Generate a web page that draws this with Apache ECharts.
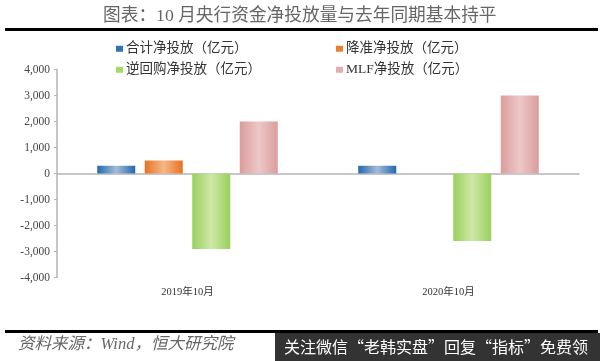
<!DOCTYPE html>
<html>
<head>
<meta charset="utf-8">
<style>html,body{margin:0;padding:0;background:#fff}#main{width:600px;height:361px}</style>
<script src="https://cdn.jsdelivr.net/npm/echarts@6/dist/echarts.min.js"></script>
</head>
<body>
<div id="main"></div>
<script>
var categories = ['2019年10月', '2020年10月'];
var seriesNames = ['合计净投放（亿元）', '降准净投放（亿元）', '逆回购净投放（亿元）', 'MLF净投放（亿元）'];
var totalNet = [300, 300];
var rrrNet = [500, 0];
var repoNet = [-2900, -2600];
var mlfNet = [2000, 3000];

var serifFont = '"Liberation Serif","Noto Sans CJK SC",serif';
var chartObj = echarts.init(document.getElementById('main'));

// 柱子中间浅两边深
function barFill(edge, mid) {
	return new echarts.graphic.LinearGradient(0, 0, 1, 0, [
		{ offset: 0, color: edge },
		{ offset: 0.5, color: mid },
		{ offset: 1, color: edge }
	]);
}

function barSeries(name, values, edge, mid) {
	return {
		type: 'bar',
		name: name,
		data: values,
		barWidth: 38,
		barGap: '25%',
		itemStyle: { color: barFill(edge, mid) }
	};
}

function legendItem(name, color, left, top) {
	return {
		data: [{ name: name, itemStyle: { color: color } }],
		left: left,
		top: top,
		icon: 'rect',
		itemWidth: 7,
		itemHeight: 6,
		itemGap: 0,
		padding: 0,
		selectedMode: false,
		textStyle: { fontFamily: serifFont, fontSize: 13.5, color: '#333', padding: [0, 0, 0, -2] }
	};
}

var option = {
	animation: false,
	backgroundColor: '#fff',
	title: {
		text: '图表：10 月央行资金净投放量与去年同期基本持平',
		left: 103,
		top: 8,
		padding: 0,
		textStyle: { fontFamily: serifFont, fontSize: 17.7, fontWeight: 'normal', color: '#666' }
	},
	legend: [
		legendItem(seriesNames[0], '#2e75b6', 116, 42),
		legendItem(seriesNames[1], '#ed7d31', 336, 42),
		legendItem(seriesNames[2], '#a5d96a', 116, 63),
		legendItem(seriesNames[3], '#e0aeae', 336, 63)
	],
	grid: { left: 57, right: 21, top: 69.5, bottom: 83.5, outerBoundsMode: 'none' },
	xAxis: {
		type: 'category',
		data: categories,
		axisLine: { lineStyle: { color: '#b5b5b5', width: 1.5 } },
		axisTick: { length: 3, lineStyle: { color: '#b5b5b5' } },
		axisLabel: { margin: 10, fontFamily: serifFont, fontSize: 10.5, color: '#333' }
	},
	yAxis: {
		type: 'value',
		min: -4000,
		max: 4000,
		interval: 1000,
		splitLine: { show: false },
		axisLine: { show: true, lineStyle: { color: '#b5b5b5', width: 1.5 } },
		axisTick: { show: true, length: 3, lineStyle: { color: '#b5b5b5' } },
		axisLabel: {
			margin: 7,
			fontFamily: serifFont,
			fontSize: 11.5,
			color: '#444',
			formatter: function (v) { return v.toLocaleString('en-US'); }
		}
	},
	series: [
		barSeries(seriesNames[0], totalNet, '#2268ae', '#a3bdd6'),
		barSeries(seriesNames[1], rrrNet, '#e8721f', '#f5b88a'),
		barSeries(seriesNames[2], repoNet, '#98d05c', '#cfe8a8'),
		barSeries(seriesNames[3], mlfNet, '#dc9c9c', '#ecc8c8')
	],
	graphic: [
		{ type: 'rect', shape: { x: 5, y: 28, width: 593, height: 3 }, style: { fill: '#000' } },
		{ type: 'rect', shape: { x: 5, y: 330, width: 593, height: 3 }, style: { fill: '#000' } },
		{
			type: 'text', x: 18, y: 336,
			style: { text: '资料来源：Wind，恒大研究院', fill: '#666', font: 'italic 16.5px ' + serifFont }
		},
		{ type: 'rect', shape: { x: 275, y: 333, width: 325, height: 28 }, style: { fill: '#333' } },
		{
			type: 'text', x: 284, y: 339,
			style: { text: '关注微信“老韩实盘”回复“指标”免费领', fill: '#fff', font: '16px "Noto Sans CJK SC",sans-serif' }
		}
	]
};
chartObj.setOption(option);
</script>
</body>
</html>
